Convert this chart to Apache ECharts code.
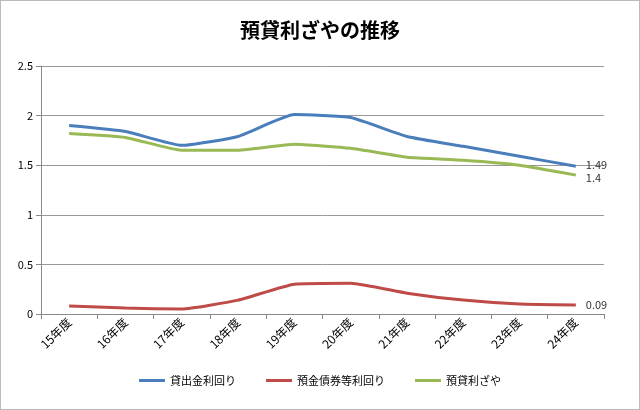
<!DOCTYPE html>
<html><head><meta charset="utf-8">
<script src="https://cdn.jsdelivr.net/npm/echarts@6/dist/echarts.min.js"></script>
<style>body{margin:0;background:#fff}#c{width:640px;height:410px;box-sizing:border-box;border:1px solid #bbb}</style>
</head><body><div id="c"></div>
<script>
var years = ['15年度','16年度','17年度','18年度','19年度','20年度','21年度','22年度','23年度','24年度'];
var lending = [1.90, 1.84, 1.70, 1.79, 2.01, 1.98, 1.79, 1.69, 1.59, 1.49];
var deposit = [0.08, 0.06, 0.05, 0.14, 0.30, 0.31, 0.21, 0.14, 0.10, 0.09];
var spread = [1.82, 1.78, 1.65, 1.65, 1.71, 1.67, 1.58, 1.55, 1.50, 1.40];

function line(name, data, color, dy) {
  return { name: name, type: 'line', data: data, symbol: 'none', smooth: 0.15,
    lineStyle: { color: color, width: 3 }, itemStyle: { color: color },
    endLabel: { show: true, formatter: '{c}', color: '#333', fontSize: 11, distance: 10, offset: [0, dy] } };
}

var chart = echarts.init(document.getElementById('c'));
chart.setOption({
  animation: false,
  textStyle: { fontFamily: '"Noto Sans CJK JP", sans-serif' },
  title: { text: '預貸利ざやの推移', left: 'center', top: 14,
    textStyle: { fontSize: 20, fontWeight: 'bold', color: '#000' } },
  grid: { left: 40, right: 35, top: 65, bottom: 95 },
  legend: { bottom: 18, itemWidth: 26, itemHeight: 3, icon: 'rect', itemGap: 30,
    textStyle: { fontSize: 11, color: '#000' },
    data: ['貸出金利回り', '預金債券等利回り', '預貸利ざや'] },
  xAxis: { type: 'category', data: years, boundaryGap: true,
    axisLine: { lineStyle: { color: '#888' } }, axisTick: { show: true, lineStyle: { color: '#888' } },
    axisLabel: { rotate: 45, color: '#000', fontSize: 12, margin: 6 } },
  yAxis: { type: 'value', min: 0, max: 2.5, interval: 0.5,
    axisLine: { show: true, lineStyle: { color: '#888' } }, axisTick: { show: true },
    axisLabel: { color: '#000', fontSize: 11 },
    splitLine: { lineStyle: { color: '#999' } } },
  series: [
    line('貸出金利回り', lending, '#4a7ebb', -1),
    line('預金債券等利回り', deposit, '#be4b48', 0),
    line('預貸利ざや', spread, '#98b954', 3)
  ]
});
</script></body></html>
